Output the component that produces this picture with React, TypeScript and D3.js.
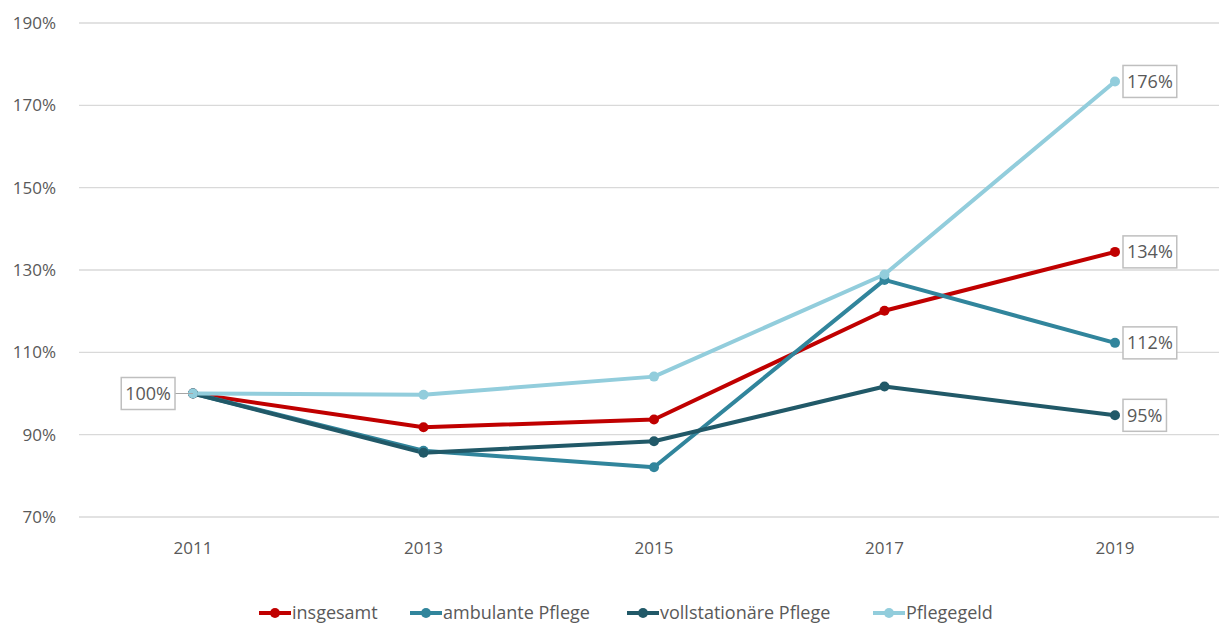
import React, { useEffect, useRef } from "react";
import * as d3 from "d3";

const years = ["2011", "2013", "2015", "2017", "2019"];
const seriesNames = ["insgesamt", "ambulante Pflege", "vollstationäre Pflege", "Pflegegeld"];
const seriesColors = ["#c00000", "#31859c", "#215968", "#92cddc"];
const insgesamt = [100, 91.8, 93.7, 120.1, 134.4];
const ambulant = [100, 86.1, 82.1, 127.6, 112.3];
const vollstationaer = [100, 85.6, 88.4, 101.7, 94.7];
const pflegegeld = [100, 99.7, 104.1, 128.9, 175.8];
const yTicks = [70, 90, 110, 130, 150, 170, 190];

const App = () => {
	const svgRef = useRef<SVGSVGElement>(null);

	useEffect(() => {
		const width = 1219;
		const height = 625;
		const svg = d3.select(svgRef.current);
		svg.selectAll("*").remove();
		svg.attr("width", width).attr("height", height);

		const font = "'Open Sans', 'Noto Sans', sans-serif";
		const textColor = "#595959";

		const x = d3.scalePoint().domain(years).range([193, 1115]);
		const y = d3.scaleLinear().domain([70, 190]).range([517, 23]);

		// gridlines + y labels
		svg
			.selectAll(".grid")
			.data(yTicks)
			.enter()
			.append("line")
			.attr("x1", 79)
			.attr("x2", width)
			.attr("y1", (d) => y(d))
			.attr("y2", (d) => y(d))
			.attr("stroke", "#d9d9d9")
			.attr("stroke-width", 1.3);

		svg
			.selectAll(".ylab")
			.data(yTicks)
			.enter()
			.append("text")
			.attr("x", 56)
			.attr("y", (d) => y(d))
			.attr("dy", "0.35em")
			.attr("text-anchor", "end")
			.style("font-family", font)
			.style("font-size", "17px")
			.style("fill", textColor)
			.text((d) => `${d}%`);

		svg
			.selectAll(".xlab")
			.data(years)
			.enter()
			.append("text")
			.attr("x", (d) => x(d)!)
			.attr("y", 548)
			.attr("dy", "0.35em")
			.attr("text-anchor", "middle")
			.style("font-family", font)
			.style("font-size", "17px")
			.style("fill", textColor)
			.text((d) => d);

		const allSeries = [insgesamt, ambulant, vollstationaer, pflegegeld];
		const line = d3
			.line<number>()
			.x((_, i) => x(years[i])!)
			.y((d) => y(d));

		allSeries.forEach((values, si) => {
			svg
				.append("path")
				.datum(values)
				.attr("d", line)
				.attr("fill", "none")
				.attr("stroke", seriesColors[si])
				.attr("stroke-width", 4)
				.attr("stroke-linejoin", "round");
		});

		allSeries.forEach((values, si) => {
			svg
				.selectAll(`.pt${si}`)
				.data(values)
				.enter()
				.append("circle")
				.attr("cx", (_, i) => x(years[i])!)
				.attr("cy", (d) => y(d))
				.attr("r", 5)
				.attr("fill", seriesColors[si]);
		});

		// data labels
		const boxLabel = (px: number, py: number, text: string, side: "left" | "right") => {
			const g = svg.append("g");
			const t = g
				.append("text")
				.attr("y", py)
				.attr("dy", "0.35em")
				.style("font-family", font)
				.style("font-size", "18px")
				.style("fill", textColor)
				.text(text);
			const w = (t.node() as SVGTextElement).getComputedTextLength();
			const bw = w + 8;
			const bh = 32;
			const bx = side === "right" ? px + 8 : px - 18 - bw;
			t.attr("x", bx + 4);
			if (side === "left") {
				g.insert("line", "text")
					.attr("x1", bx + bw)
					.attr("x2", px)
					.attr("y1", py)
					.attr("y2", py)
					.attr("stroke", "#a6a6a6")
					.attr("stroke-width", 1);
			}
			g.insert("rect", "text")
				.attr("x", bx)
				.attr("y", py - bh / 2)
				.attr("width", bw)
				.attr("height", bh)
				.attr("fill", "#fff")
				.attr("stroke", "#bfbfbf")
				.attr("stroke-width", 1.5);
		};

		boxLabel(x(years[0])!, y(100), "100%", "left");
		const last = years.length - 1;
		boxLabel(x(years[last])!, y(pflegegeld[last]), "176%", "right");
		boxLabel(x(years[last])!, y(insgesamt[last]), "134%", "right");
		boxLabel(x(years[last])!, y(ambulant[last]), "112%", "right");
		boxLabel(x(years[last])!, y(vollstationaer[last]), "95%", "right");

		// legend
		const legendX = [259, 410, 627, 873];
		const ly = 613;
		seriesNames.forEach((name, i) => {
			const lx = legendX[i];
			svg
				.append("line")
				.attr("x1", lx)
				.attr("x2", lx + 32)
				.attr("y1", ly)
				.attr("y2", ly)
				.attr("stroke", seriesColors[i])
				.attr("stroke-width", 4);
			svg
				.append("circle")
				.attr("cx", lx + 16)
				.attr("cy", ly)
				.attr("r", 5)
				.attr("fill", seriesColors[i]);
			svg
				.append("text")
				.attr("x", lx + 33)
				.attr("y", ly)
				.attr("dy", "0.35em")
				.style("font-family", font)
				.style("font-size", "18px")
				.style("fill", textColor)
				.text(name);
		});
	}, []);

	return (
		<div style={{ position: "absolute", left: 0, top: 0 }}>
			<svg ref={svgRef}></svg>
		</div>
	);
};

export default App;
